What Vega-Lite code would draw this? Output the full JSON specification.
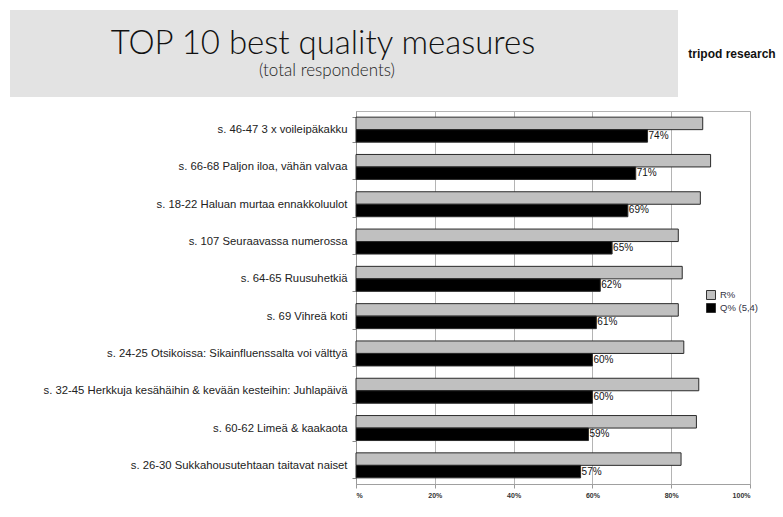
{
  "$schema": "https://vega.github.io/schema/vega-lite/v6.json",
  "background": "white",
  "padding": {"left": 10, "top": 10, "right": 0, "bottom": 0},
  "spacing": 13,
  "config": {
    "view": {"stroke": null},
    "font": "Liberation Sans"
  },
  "datasets": {
    "measures": [
      {"item": "s. 46-47 3 x voileipäkakku", "series": "R%", "value": 0.88},
      {"item": "s. 46-47 3 x voileipäkakku", "series": "Q% (5,4)", "value": 0.74},
      {"item": "s. 66-68 Paljon iloa, vähän valvaa", "series": "R%", "value": 0.9},
      {"item": "s. 66-68 Paljon iloa, vähän valvaa", "series": "Q% (5,4)", "value": 0.71},
      {"item": "s. 18-22 Haluan murtaa ennakkoluulot", "series": "R%", "value": 0.874},
      {"item": "s. 18-22 Haluan murtaa ennakkoluulot", "series": "Q% (5,4)", "value": 0.69},
      {"item": "s. 107 Seuraavassa numerossa", "series": "R%", "value": 0.818},
      {"item": "s. 107 Seuraavassa numerossa", "series": "Q% (5,4)", "value": 0.65},
      {"item": "s. 64-65 Ruusuhetkiä", "series": "R%", "value": 0.828},
      {"item": "s. 64-65 Ruusuhetkiä", "series": "Q% (5,4)", "value": 0.62},
      {"item": "s. 69 Vihreä koti", "series": "R%", "value": 0.818},
      {"item": "s. 69 Vihreä koti", "series": "Q% (5,4)", "value": 0.61},
      {"item": "s. 24-25 Otsikoissa: Sikainfluenssalta voi välttyä", "series": "R%", "value": 0.832},
      {"item": "s. 24-25 Otsikoissa: Sikainfluenssalta voi välttyä", "series": "Q% (5,4)", "value": 0.6},
      {"item": "s. 32-45 Herkkuja kesähäihin & kevään kesteihin: Juhlapäivä", "series": "R%", "value": 0.87},
      {"item": "s. 32-45 Herkkuja kesähäihin & kevään kesteihin: Juhlapäivä", "series": "Q% (5,4)", "value": 0.6},
      {"item": "s. 60-62 Limeä & kaakaota", "series": "R%", "value": 0.864},
      {"item": "s. 60-62 Limeä & kaakaota", "series": "Q% (5,4)", "value": 0.59},
      {"item": "s. 26-30 Sukkahousutehtaan taitavat naiset", "series": "R%", "value": 0.825},
      {"item": "s. 26-30 Sukkahousutehtaan taitavat naiset", "series": "Q% (5,4)", "value": 0.57}
    ]
  },
  "vconcat": [
    {
      "spacing": 3,
      "hconcat": [
        {
          "width": 668,
          "height": 87,
          "view": {"fill": "#e3e3e3", "stroke": null},
          "data": {"values": [{"k": 1}]},
          "layer": [
            {
              "mark": {"type": "text", "text": "TOP 10 best quality measures", "font": "Lato", "fontWeight": 300, "fontSize": 33, "color": "#111111", "align": "center", "baseline": "alphabetic", "dx": -21, "dy": 0}
            },
            {
              "mark": {"type": "text", "text": "(total respondents)", "font": "Lato", "fontWeight": 300, "fontSize": 17, "color": "#222222", "align": "center", "baseline": "alphabetic", "dx": -17, "dy": 22}
            }
          ]
        },
        {
          "width": 102,
          "height": 87,
          "view": {"stroke": null},
          "data": {"values": [{"k": 1}]},
          "mark": {"type": "text", "text": "tripod research", "font": "Liberation Sans", "fontWeight": "bold", "fontSize": 12, "color": "#111111", "align": "center", "baseline": "middle"}
        }
      ]
    },
    {
      "spacing": 0,
      "hconcat": [
        {
          "width": 341,
          "height": 373,
          "view": {"stroke": null},
          "data": {"name": "measures"},
          "mark": {"type": "point", "opacity": 0},
          "encoding": {
            "y": {
              "field": "item",
              "type": "nominal",
              "sort": null,
              "scale": {"paddingInner": 0.33, "paddingOuter": 0.165},
              "axis": {
                "orient": "right",
                "title": null,
                "domain": false,
                "ticks": false,
                "tickSize": 0,
                "labelAlign": "right",
                "labelPadding": -4,
                "labelFontSize": 11.3,
                "labelColor": "#222222",
                "labelLimit": 420,
                "grid": false
              }
            }
          }
        },
        {
          "width": 394,
          "height": 373,
          "view": {"stroke": "#b4b4b4", "strokeWidth": 1},
          "data": {"name": "measures"},
          "encoding": {
            "y": {
              "field": "item",
              "type": "nominal",
              "sort": null,
              "scale": {"paddingInner": 0.33, "paddingOuter": 0.165},
              "axis": {
                "title": null,
                "labels": false,
                "tickBand": "extent",
                "tickSize": 4,
                "tickColor": "#888888",
                "domainColor": "#999999",
                "grid": false
              }
            },
            "yOffset": {
              "field": "series",
              "type": "nominal",
              "scale": {"domain": ["R%", "Q% (5,4)"], "paddingInner": 0, "paddingOuter": 0}
            },
            "x": {
              "field": "value",
              "type": "quantitative",
              "scale": {"domain": [0, 1], "nice": false},
              "axis": {
                "title": null,
                "values": [0, 0.2, 0.4, 0.6, 0.8, 1],
                "format": ".0%",
                "labelExpr": "datum.value == 0 ? '%' : datum.label",
                "labelFontSize": 7,
                "labelFontWeight": "bold",
                "labelColor": "#333333",
                "labelPadding": 3,
                "tickSize": 4,
                "tickColor": "#999999",
                "domainColor": "#a0a0a0",
                "grid": true,
                "gridColor": "#b4b4b4",
                "gridWidth": 1
              }
            }
          },
          "layer": [
            {
              "mark": {"type": "bar", "stroke": "#2a2a2a", "strokeWidth": 1},
              "encoding": {
                "color": {
                  "field": "series",
                  "type": "nominal",
                  "scale": {"domain": ["R%", "Q% (5,4)"], "range": ["#c0c0c0", "#000000"]},
                  "legend": {
                    "title": null,
                    "orient": "none",
                    "legendX": 696,
                    "legendY": 280,
                    "symbolType": "square",
                    "symbolSize": 81,
                    "symbolStrokeColor": "#333333",
                    "symbolStrokeWidth": 1,
                    "labelFontSize": 9.5,
                    "labelColor": "#333344",
                    "labelOffset": 4,
                    "clipHeight": 10,
                    "rowPadding": 3,
                    "padding": 0
                  }
                }
              }
            },
            {
              "transform": [{"filter": "datum.series == 'Q% (5,4)'"}],
              "mark": {"type": "text", "align": "left", "baseline": "middle", "dx": 1, "fontSize": 10, "color": "#111111"},
              "encoding": {
                "text": {"field": "value", "type": "quantitative", "format": ".0%"}
              }
            }
          ]
        }
      ]
    }
  ]
}
